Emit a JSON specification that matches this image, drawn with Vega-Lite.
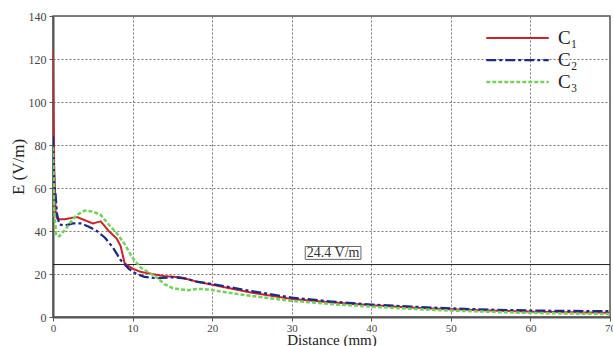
{
  "$schema": "https://vega.github.io/schema/vega-lite/v6.json",
  "width": 557,
  "height": 301,
  "autosize": "none",
  "padding": {"left": 53, "top": 16, "right": 3, "bottom": 29},
  "background": "white",
  "config": {
    "view": {"stroke": "#555", "strokeWidth": 1.5},
    "font": "Liberation Serif",
    "axis": {
      "labelFont": "Liberation Serif",
      "titleFont": "Liberation Serif",
      "labelFontSize": 12,
      "labelColor": "#444",
      "titleColor": "#222",
      "titleFontWeight": "normal",
      "titleFontSize": 16,
      "gridColor": "#777",
      "gridDash": [2, 2],
      "gridWidth": 1,
      "domainColor": "#555",
      "domainWidth": 2,
      "tickColor": "#555",
      "tickSize": 4
    }
  },
  "datasets": {
    "curves": [
      {"d": 0, "E": 124, "s": "C₁"},
      {"d": 0.15, "E": 70, "s": "C₁"},
      {"d": 0.35, "E": 47, "s": "C₁"},
      {"d": 0.6, "E": 45.5, "s": "C₁"},
      {"d": 1.5, "E": 45.5, "s": "C₁"},
      {"d": 3, "E": 46.5, "s": "C₁"},
      {"d": 4, "E": 45, "s": "C₁"},
      {"d": 5, "E": 43.5, "s": "C₁"},
      {"d": 6, "E": 44.5, "s": "C₁"},
      {"d": 7, "E": 40, "s": "C₁"},
      {"d": 8, "E": 36.5, "s": "C₁"},
      {"d": 8.5, "E": 33, "s": "C₁"},
      {"d": 9, "E": 25, "s": "C₁"},
      {"d": 10, "E": 22.5, "s": "C₁"},
      {"d": 11, "E": 21, "s": "C₁"},
      {"d": 12, "E": 20.3, "s": "C₁"},
      {"d": 14, "E": 19, "s": "C₁"},
      {"d": 16, "E": 18.5, "s": "C₁"},
      {"d": 18, "E": 16.5, "s": "C₁"},
      {"d": 20, "E": 15, "s": "C₁"},
      {"d": 22, "E": 13.5, "s": "C₁"},
      {"d": 25, "E": 11.3, "s": "C₁"},
      {"d": 30, "E": 8.4, "s": "C₁"},
      {"d": 35, "E": 6.8, "s": "C₁"},
      {"d": 40, "E": 5.5, "s": "C₁"},
      {"d": 45, "E": 4.4, "s": "C₁"},
      {"d": 50, "E": 3.6, "s": "C₁"},
      {"d": 55, "E": 3, "s": "C₁"},
      {"d": 60, "E": 2.5, "s": "C₁"},
      {"d": 65, "E": 2.2, "s": "C₁"},
      {"d": 70, "E": 2, "s": "C₁"},

      {"d": 0, "E": 84, "s": "C₂"},
      {"d": 0.15, "E": 62, "s": "C₂"},
      {"d": 0.3, "E": 58, "s": "C₂"},
      {"d": 0.5, "E": 48, "s": "C₂"},
      {"d": 0.8, "E": 43, "s": "C₂"},
      {"d": 1.5, "E": 42.5, "s": "C₂"},
      {"d": 2.5, "E": 43.5, "s": "C₂"},
      {"d": 3.5, "E": 43.5, "s": "C₂"},
      {"d": 4.5, "E": 42, "s": "C₂"},
      {"d": 5.5, "E": 40, "s": "C₂"},
      {"d": 6.5, "E": 37, "s": "C₂"},
      {"d": 7.5, "E": 32.5, "s": "C₂"},
      {"d": 8.5, "E": 26.5, "s": "C₂"},
      {"d": 9.5, "E": 22.5, "s": "C₂"},
      {"d": 10.5, "E": 20, "s": "C₂"},
      {"d": 11.5, "E": 18.7, "s": "C₂"},
      {"d": 13, "E": 18, "s": "C₂"},
      {"d": 15, "E": 18.5, "s": "C₂"},
      {"d": 16.5, "E": 18, "s": "C₂"},
      {"d": 18, "E": 16.5, "s": "C₂"},
      {"d": 20, "E": 15.3, "s": "C₂"},
      {"d": 22, "E": 14, "s": "C₂"},
      {"d": 25, "E": 12, "s": "C₂"},
      {"d": 30, "E": 9, "s": "C₂"},
      {"d": 35, "E": 7.2, "s": "C₂"},
      {"d": 40, "E": 5.8, "s": "C₂"},
      {"d": 45, "E": 4.8, "s": "C₂"},
      {"d": 50, "E": 4, "s": "C₂"},
      {"d": 55, "E": 3.4, "s": "C₂"},
      {"d": 60, "E": 3, "s": "C₂"},
      {"d": 65, "E": 2.8, "s": "C₂"},
      {"d": 70, "E": 2.7, "s": "C₂"},

      {"d": 0, "E": 79, "s": "C₃"},
      {"d": 0.15, "E": 50, "s": "C₃"},
      {"d": 0.4, "E": 38, "s": "C₃"},
      {"d": 0.8, "E": 37.5, "s": "C₃"},
      {"d": 1.5, "E": 40.5, "s": "C₃"},
      {"d": 2.2, "E": 44, "s": "C₃"},
      {"d": 3, "E": 47.5, "s": "C₃"},
      {"d": 4, "E": 49.5, "s": "C₃"},
      {"d": 5, "E": 49, "s": "C₃"},
      {"d": 6, "E": 47.5, "s": "C₃"},
      {"d": 7, "E": 43, "s": "C₃"},
      {"d": 8, "E": 39, "s": "C₃"},
      {"d": 9, "E": 34, "s": "C₃"},
      {"d": 10, "E": 27.5, "s": "C₃"},
      {"d": 11, "E": 23, "s": "C₃"},
      {"d": 12, "E": 20.8, "s": "C₃"},
      {"d": 13, "E": 18.5, "s": "C₃"},
      {"d": 14, "E": 15.3, "s": "C₃"},
      {"d": 15, "E": 13.5, "s": "C₃"},
      {"d": 16, "E": 12.8, "s": "C₃"},
      {"d": 17, "E": 12.5, "s": "C₃"},
      {"d": 18, "E": 13, "s": "C₃"},
      {"d": 19, "E": 13, "s": "C₃"},
      {"d": 20, "E": 12.5, "s": "C₃"},
      {"d": 22, "E": 11.3, "s": "C₃"},
      {"d": 25, "E": 9.8, "s": "C₃"},
      {"d": 30, "E": 7.5, "s": "C₃"},
      {"d": 35, "E": 6, "s": "C₃"},
      {"d": 40, "E": 4.8, "s": "C₃"},
      {"d": 45, "E": 3.8, "s": "C₃"},
      {"d": 50, "E": 3, "s": "C₃"},
      {"d": 55, "E": 2.4, "s": "C₃"},
      {"d": 60, "E": 1.9, "s": "C₃"},
      {"d": 65, "E": 1.6, "s": "C₃"},
      {"d": 70, "E": 1.4, "s": "C₃"}
    ],
    "note": [
      {"x1": 31.7, "x2": 38.7, "y1": 26.8, "y2": 32.8, "xc": 35.2, "yc": 29.8, "label": "24.4 V/m"}
    ]
  },
  "layer": [
    {
      "data": {"values": [{"v": 24.4}]},
      "mark": {"type": "rule", "color": "#222", "strokeWidth": 1},
      "encoding": {"y": {"field": "v", "type": "quantitative", "scale": {"domain": [0, 140]}}}
    },
    {
      "data": {"name": "note"},
      "mark": {"type": "rect", "fill": "white", "stroke": "#666", "strokeWidth": 1},
      "encoding": {
        "x": {"field": "x1", "type": "quantitative"},
        "x2": {"field": "x2"},
        "y": {"field": "y1", "type": "quantitative"},
        "y2": {"field": "y2"}
      }
    },
    {
      "data": {"name": "note"},
      "mark": {"type": "text", "fontSize": 14, "font": "Liberation Serif", "color": "#333"},
      "encoding": {
        "x": {"field": "xc", "type": "quantitative"},
        "y": {"field": "yc", "type": "quantitative"},
        "text": {"field": "label"}
      }
    },
    {
      "data": {"name": "curves"},
      "mark": {"type": "line", "clip": true},
      "encoding": {
        "x": {
          "field": "d", "type": "quantitative",
          "scale": {"domain": [0, 70], "nice": false},
          "axis": {"values": [0, 10, 20, 30, 40, 50, 60, 70], "title": "Distance (mm)", "titleFontSize": 15, "labelFontSize": 11, "labelPadding": 1, "titlePadding": -1, "labelFlush": false}
        },
        "y": {
          "field": "E", "type": "quantitative",
          "scale": {"domain": [0, 140], "nice": false},
          "axis": {"values": [0, 20, 40, 60, 80, 100, 120, 140], "title": "E (V/m)", "titleFontSize": 17, "labelPadding": 3, "titlePadding": 1}
        },
        "color": {
          "field": "s", "type": "nominal",
          "scale": {"domain": ["C₁", "C₂", "C₃"], "range": ["#cc2229", "#1f2a88", "#72d35a"]},
          "legend": {
            "title": null,
            "orient": "none",
            "legendX": 432,
            "legendY": 12,
            "symbolType": "stroke",
            "symbolSize": 3900,
            "clipHeight": 20,
            "labelFontSize": 19,
            "labelFont": "Liberation Serif",
            "labelColor": "#222",
            "rowPadding": 2,
            "labelOffset": 8
          }
        },
        "strokeDash": {
          "field": "s", "type": "nominal",
          "scale": {"domain": ["C₁", "C₂", "C₃"], "range": [[1, 0], [10, 3, 3, 3], [4, 2]]},
          "legend": null
        },
        "strokeWidth": {
          "field": "s", "type": "nominal",
          "scale": {"domain": ["C₁", "C₂", "C₃"], "range": [2, 2.5, 3]},
          "legend": null
        }
      }
    }
  ]
}
